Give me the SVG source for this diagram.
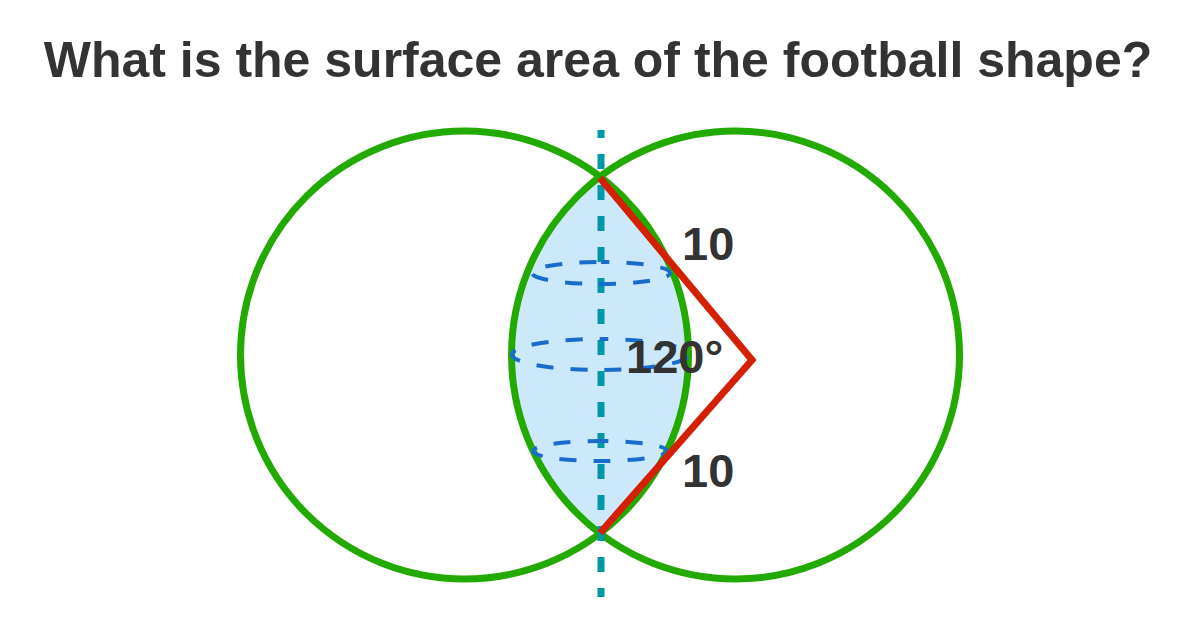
<svg xmlns="http://www.w3.org/2000/svg" width="1200" height="627" viewBox="0 0 1200 627">
<style>
.circ{fill:none;stroke:#22aa00;stroke-width:7}
.ell{fill:none;stroke:#1a6ccc;stroke-width:4;stroke-dasharray:17 17;stroke-dashoffset:8.5}
.lbl{font-family:"Liberation Sans",Arial,sans-serif;font-weight:bold;fill:#333333}
</style>
<rect width="1200" height="627" fill="#ffffff"/>
<text class="lbl" x="598" y="77" font-size="50" text-anchor="middle">What is the surface area of the football shape?</text>
<g id="lens"><path d="M600,177 A224,224 0 0,1 600,533 A224,224 0 0,1 600,177 Z" fill="#cce8fb"/></g>
<g id="circle-left"><circle class="circ" cx="464.5" cy="355" r="224"/></g>
<g id="circle-right"><circle class="circ" cx="735.5" cy="355" r="224"/></g>
<g id="connectors">
<line x1="601" y1="130" x2="601" y2="597" stroke="#0097a7" stroke-width="7" stroke-dasharray="15 16" stroke-dashoffset="7"/>
<path class="ell" d="M601,262 A69,11 0 1 1 601,284 A69,11 0 1 1 601,262"/>
<path class="ell" d="M600,339 A88,15.5 0 1 1 600,370 A88,15.5 0 1 1 600,339"/>
<path class="ell" d="M600,441 A67,10 0 1 1 600,461 A67,10 0 1 1 600,441"/>
<polyline points="600,178 752,360 600,533" fill="none" stroke="#d42000" stroke-width="7" stroke-linejoin="miter"/>
</g>
<g id="labels">
<text class="lbl" x="682" y="260" font-size="47">10</text>
<text class="lbl" x="682" y="487" font-size="47">10</text>
<text class="lbl" x="626" y="373" font-size="47">120°</text>
</g>
</svg>
